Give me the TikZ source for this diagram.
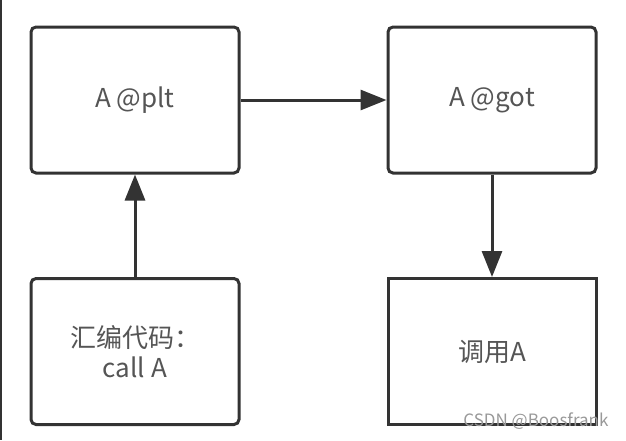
\documentclass[tikz,border=0pt]{standalone}
\usepackage{fontspec}
\newfontfamily\cjkfont{Noto Sans CJK SC}
\usetikzlibrary{arrows.meta}
\definecolor{linegray}{HTML}{333333}
\definecolor{textgray}{HTML}{555555}
\tikzset{
  box/.style={draw=linegray, line width=3pt, rounded corners=5pt, minimum width=208pt, minimum height=146pt,
    text=textgray, font=\cjkfont\fontsize{26}{30}\selectfont, align=center},
  link/.style={draw=linegray, line width=3pt, -{Triangle[length=26pt,width=20pt]}}
}
\begin{document}
\begin{tikzpicture}[x=1pt, y=-1pt]
        \useasboundingbox (0,0) rectangle (626,440);
        % Left border line
        \draw[linegray, line width=2pt] (1,0) -- (1,440);

        % Boxes
        \node[box] (plt) at (135,100) {A @plt};
        \node[box] (got) at (492,100) {A @got};
        \node[box] (asm) at (135,351.5) {汇编代码：\\ call A};
        \node[box, sharp corners] (call) at (492,351.5) {调用A};

        % Arrows
        \draw[link] (asm.north) -- (plt.south);
        \draw[link] (plt.east) -- (got.west);
        \draw[link] (got.south) -- (call.north);

        % Watermark
        \node[text=gray!80, font=\cjkfont\fontsize{17}{20}\selectfont, anchor=east] (mark) at (612,421) {CSDN @Boosfrank};
    \end{tikzpicture}
\end{document}
